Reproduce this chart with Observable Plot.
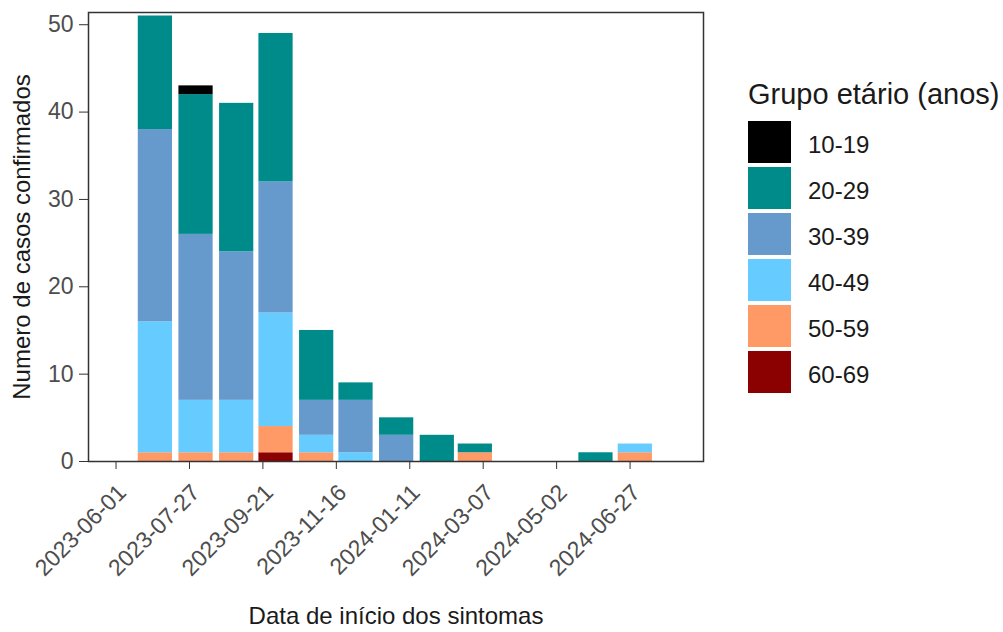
<!DOCTYPE html>
<html><head><meta charset="utf-8">
<script src="https://cdn.jsdelivr.net/npm/d3@7"></script>
<script src="https://cdn.jsdelivr.net/npm/@observablehq/plot@0.6"></script>
<style>
body{margin:0;background:#fff;font-family:"Liberation Sans",Arial,sans-serif;}
#wrap{position:relative;width:1003px;height:632px;}
#legend{position:absolute;left:748px;top:78px;color:#1a1a1a;}
#legend .title{font-size:29px;line-height:32px;height:32px;margin-bottom:11px;white-space:nowrap;}
#legend .row{display:flex;align-items:flex-start;height:46px;}
#legend .sw{width:43px;height:42px;}
#legend .lab{font-size:24px;line-height:42px;margin-left:17px;padding-top:3px;}
</style></head><body><div id="wrap"></div>
<script>
const months = ["2023-07-01","2023-08-01","2023-09-01","2023-10-01","2023-11-01","2023-12-01","2024-01-01","2024-02-01","2024-03-01","2024-04-01","2024-05-01","2024-06-01","2024-07-01"];
const ageGroups = ["10-19","20-29","30-39","40-49","50-59","60-69"];
const groupColors = ["#000000","#008B8B","#6699CC","#66CCFF","#FF9966","#8B0000"];
const cases_10_19 = [0,1,0,0,0,0,0,0,0,0,0,0,0];
const cases_20_29 = [13,16,17,17,8,2,2,3,1,0,0,1,0];
const cases_30_39 = [22,19,17,15,4,6,3,0,0,0,0,0,0];
const cases_40_49 = [15,6,6,13,2,1,0,0,0,0,0,0,1];
const cases_50_59 = [1,1,1,3,1,0,0,0,1,0,0,0,1];
const cases_60_69 = [0,0,0,1,0,0,0,0,0,0,0,0,0];
const xTicks = ["2023-06-01","2023-07-27","2023-09-21","2023-11-16","2024-01-11","2024-03-07","2024-05-02","2024-06-27"];
const yTicks = [0,10,20,30,40,50];
const xDomain = ["2023-05-11","2024-08-22"];
const yDomain = [0,51.4];

const series = [cases_10_19,cases_20_29,cases_30_39,cases_40_49,cases_50_59,cases_60_69];
const DAY = 864e5;
const half = 0.45*29*DAY;
const rows = [];
months.forEach((m,i)=>{
  const d = new Date(m+"T00:00:00Z");
  let base = 0;
  for (let g = ageGroups.length-1; g>=0; g--) {
    const v = series[g][i];
    if (v>0) rows.push({group:ageGroups[g], x1:new Date(+d-half), x2:new Date(+d+half), y1:base, y2:base+v});
    base += v;
  }
});

const chart = Plot.plot({
  width:1003, height:632,
  marginLeft:88, marginRight:300, marginTop:12, marginBottom:171,
  style:{fontFamily:"'Liberation Sans',Arial,sans-serif", fontSize:"23px", color:"#1a1a1a", background:"#fff"},
  x:{type:"utc", domain:xDomain.map(s=>new Date(s+"T00:00:00Z"))},
  y:{domain:yDomain},
  color:{domain:ageGroups, range:groupColors},
  marks:[
    Plot.rect(rows,{x1:"x1",x2:"x2",y1:"y1",y2:"y2",fill:"group"}),
    Plot.frame({stroke:"#333", strokeWidth:1.5}),
    Plot.axisY({ticks:yTicks, tickSize:9, tickPadding:6, fontSize:23, stroke:"#333", fill:"#4D4D4D",
      label:null}),
    Plot.axisY({ticks:[], label:"Numero de casos confirmados", labelAnchor:"center", labelArrow:"none", labelOffset:76, fontSize:24}),
    Plot.axisX({ticks:xTicks.map(s=>new Date(s+"T00:00:00Z")), tickFormat:d3.utcFormat("%Y-%m-%d"),
      tickRotate:-45, tickSize:8, tickPadding:13, fontSize:23, stroke:"#333", fill:"#4D4D4D", lineAnchor:"top",
      label:null}),
    Plot.axisX({ticks:[], label:"Data de início dos sintomas", labelAnchor:"center", labelArrow:"none", labelOffset:162, fontSize:24})
  ]
});
const wrap = document.getElementById("wrap");
wrap.appendChild(chart);

const leg = document.createElement("div");
leg.id="legend";
let html = '<div class="title">Grupo etário (anos)</div>';
ageGroups.forEach((g,i)=>{
  html += `<div class="row"><div class="sw" style="background:${groupColors[i]}"></div><div class="lab">${g}</div></div>`;
});
leg.innerHTML = html;
wrap.appendChild(leg);
</script></body></html>
